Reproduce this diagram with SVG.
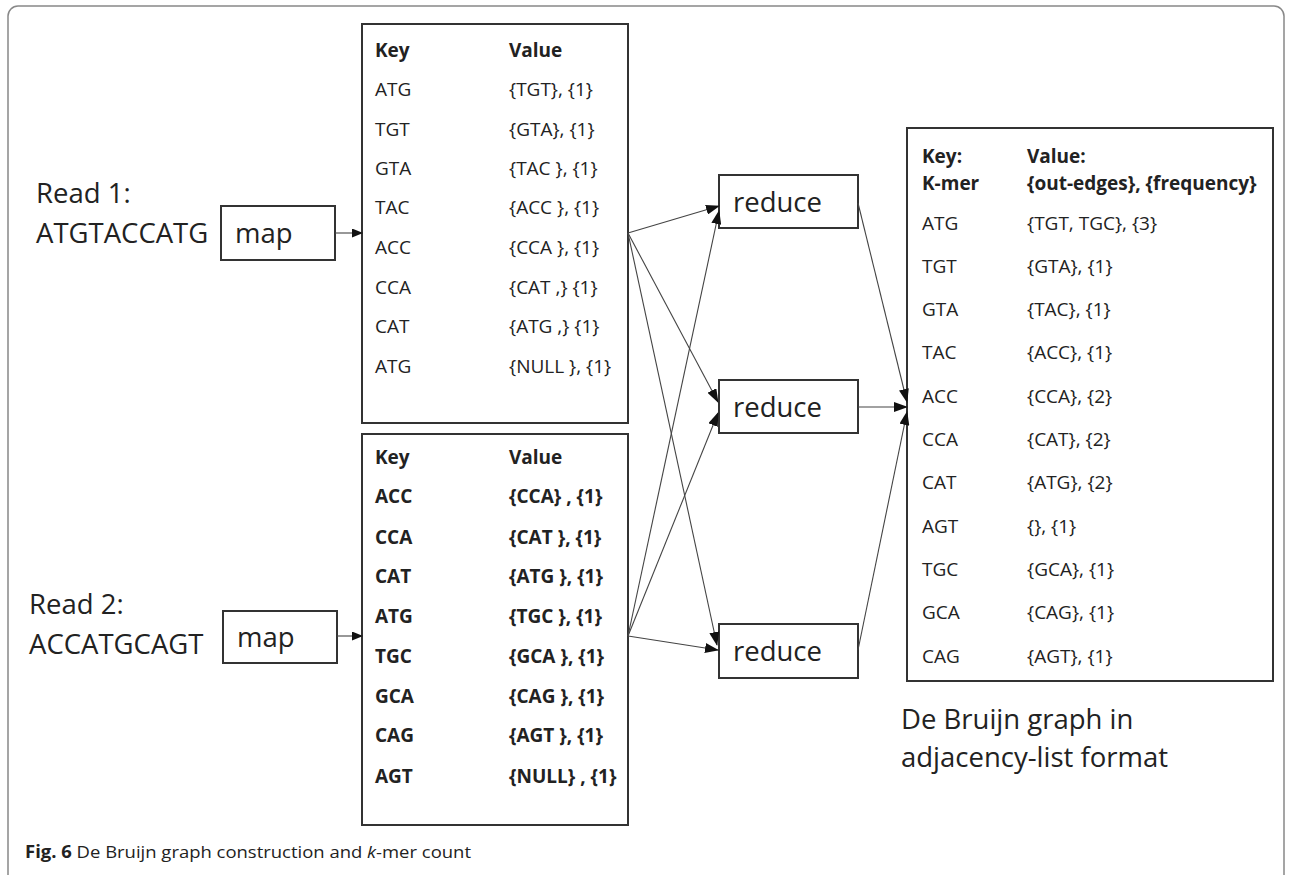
<svg xmlns="http://www.w3.org/2000/svg" width="1291" height="875" viewBox="0 0 1291 875">
<style>
.t{font-family:"Open Sans","Noto Sans","Liberation Sans",sans-serif;fill:#222;}
.s{font-size:19px;}
.sb{font-size:19px;font-weight:bold;}
.big{font-size:27.5px;}
.box{fill:#fff;stroke:#333;stroke-width:2;}
.tbl{fill:#fff;stroke:#333;stroke-width:2;}
.ln{fill:none;stroke:#444;stroke-width:1.1;}
</style>
<defs>
<marker id="ah" markerWidth="14" markerHeight="10" refX="13" refY="5" orient="auto" markerUnits="userSpaceOnUse">
<path d="M0,0 L14,5 L0,10 Z" fill="#111"/>
</marker>
<marker id="ahs" markerWidth="11" markerHeight="9" refX="10" refY="4.5" orient="auto" markerUnits="userSpaceOnUse">
<path d="M0,0 L11,4.5 L0,9 Z" fill="#111"/>
</marker>
</defs>
<rect x="8" y="6" width="1276" height="885" rx="10" fill="#fff" stroke="#888" stroke-width="1.5"/>

<g id="read1">
<text class="t big" x="36" y="203">Read 1:</text>
<text class="t big" x="36" y="243">ATGTACCATG</text>
</g>
<g id="map1">
<rect class="box" x="221" y="206" width="114" height="54"/>
<text class="t big" x="235" y="243">map</text>
</g>
<g id="read2">
<text class="t big" x="29" y="614">Read 2:</text>
<text class="t big" x="29" y="654">ACCATGCAGT</text>
</g>
<g id="map2">
<rect class="box" x="223" y="611" width="114" height="52"/>
<text class="t big" x="237" y="647">map</text>
</g>

<g id="table1">
<rect class="tbl" x="362" y="24" width="266" height="399"/>
<g class="t">
<text class="sb" x="375" y="57">Key</text><text class="sb" x="509" y="57">Value</text>
<text class="s" x="375" y="96">ATG</text><text class="s" x="509" y="96">{TGT}, {1}</text>
<text class="s" x="375" y="136">TGT</text><text class="s" x="509" y="136">{GTA}, {1}</text>
<text class="s" x="375" y="175">GTA</text><text class="s" x="509" y="175">{TAC }, {1}</text>
<text class="s" x="375" y="214">TAC</text><text class="s" x="509" y="214">{ACC }, {1}</text>
<text class="s" x="375" y="254">ACC</text><text class="s" x="509" y="254">{CCA }, {1}</text>
<text class="s" x="375" y="294">CCA</text><text class="s" x="509" y="294">{CAT ,} {1}</text>
<text class="s" x="375" y="333">CAT</text><text class="s" x="509" y="333">{ATG ,} {1}</text>
<text class="s" x="375" y="373">ATG</text><text class="s" x="509" y="373">{NULL }, {1}</text>
</g>
</g>

<g id="table2">
<rect class="tbl" x="362" y="434" width="266" height="391"/>
<g class="t">
<text class="sb" x="375" y="464">Key</text><text class="sb" x="509" y="464">Value</text>
<text class="sb" x="375" y="503">ACC</text><text class="sb" x="509" y="503">{CCA} , {1}</text>
<text class="sb" x="375" y="544">CCA</text><text class="sb" x="509" y="544">{CAT }, {1}</text>
<text class="sb" x="375" y="583">CAT</text><text class="sb" x="509" y="583">{ATG }, {1}</text>
<text class="sb" x="375" y="623">ATG</text><text class="sb" x="509" y="623">{TGC }, {1}</text>
<text class="sb" x="375" y="663">TGC</text><text class="sb" x="509" y="663">{GCA }, {1}</text>
<text class="sb" x="375" y="703">GCA</text><text class="sb" x="509" y="703">{CAG }, {1}</text>
<text class="sb" x="375" y="742">CAG</text><text class="sb" x="509" y="742">{AGT }, {1}</text>
<text class="sb" x="375" y="783">AGT</text><text class="sb" x="509" y="783">{NULL} , {1}</text>
</g>
</g>

<g id="reduce1">
<rect class="box" x="719" y="175" width="139" height="53"/>
<text class="t big" x="733" y="212">reduce</text>
</g>
<g id="reduce2">
<rect class="box" x="719" y="380" width="139" height="53"/>
<text class="t big" x="733" y="417">reduce</text>
</g>
<g id="reduce3">
<rect class="box" x="719" y="624" width="139" height="54"/>
<text class="t big" x="733" y="661">reduce</text>
</g>

<g id="table3">
<rect class="tbl" x="907" y="128" width="366" height="553"/>
<g class="t">
<text class="sb" x="922" y="163">Key:</text><text class="sb" x="1027" y="163">Value:</text>
<text class="sb" x="922" y="190">K-mer</text><text class="sb" x="1027" y="190">{out-edges}, {frequency}</text>
<text class="s" x="922" y="230">ATG</text><text class="s" x="1027" y="230">{TGT, TGC}, {3}</text>
<text class="s" x="922" y="273">TGT</text><text class="s" x="1027" y="273">{GTA}, {1}</text>
<text class="s" x="922" y="316">GTA</text><text class="s" x="1027" y="316">{TAC}, {1}</text>
<text class="s" x="922" y="359">TAC</text><text class="s" x="1027" y="359">{ACC}, {1}</text>
<text class="s" x="922" y="403">ACC</text><text class="s" x="1027" y="403">{CCA}, {2}</text>
<text class="s" x="922" y="446">CCA</text><text class="s" x="1027" y="446">{CAT}, {2}</text>
<text class="s" x="922" y="489">CAT</text><text class="s" x="1027" y="489">{ATG}, {2}</text>
<text class="s" x="922" y="533">AGT</text><text class="s" x="1027" y="533">{}, {1}</text>
<text class="s" x="922" y="576">TGC</text><text class="s" x="1027" y="576">{GCA}, {1}</text>
<text class="s" x="922" y="619">GCA</text><text class="s" x="1027" y="619">{CAG}, {1}</text>
<text class="s" x="922" y="663">CAG</text><text class="s" x="1027" y="663">{AGT}, {1}</text>
</g>
</g>

<g id="label">
<text class="t big" x="901" y="729">De Bruijn graph in</text>
<text class="t big" x="901" y="767">adjacency-list format</text>
</g>

<g id="connectors">
<line class="ln" x1="335" y1="233" x2="362" y2="233" marker-end="url(#ahs)"/>
<line class="ln" x1="337" y1="636" x2="362" y2="636" marker-end="url(#ahs)"/>
<line class="ln" x1="628" y1="233" x2="719" y2="206" marker-end="url(#ah)"/>
<line class="ln" x1="628" y1="233" x2="718" y2="402" marker-end="url(#ah)"/>
<line class="ln" x1="628" y1="233" x2="717" y2="645" marker-end="url(#ah)"/>
<line class="ln" x1="628" y1="636" x2="719" y2="211" marker-end="url(#ah)"/>
<line class="ln" x1="628" y1="636" x2="718" y2="413" marker-end="url(#ah)"/>
<line class="ln" x1="628" y1="636" x2="718" y2="650" marker-end="url(#ah)"/>
<line class="ln" x1="858" y1="203" x2="907" y2="402" marker-end="url(#ah)"/>
<line class="ln" x1="858" y1="407" x2="907" y2="407" marker-end="url(#ah)"/>
<line class="ln" x1="858" y1="650" x2="907" y2="412" marker-end="url(#ah)"/>
</g>

<g id="caption">
<text class="t" x="25" y="858" font-size="17" textLength="446" lengthAdjust="spacingAndGlyphs"><tspan font-weight="bold">Fig. 6</tspan> De Bruijn graph construction and <tspan font-style="italic">k</tspan>-mer count</text>
</g>
</svg>
